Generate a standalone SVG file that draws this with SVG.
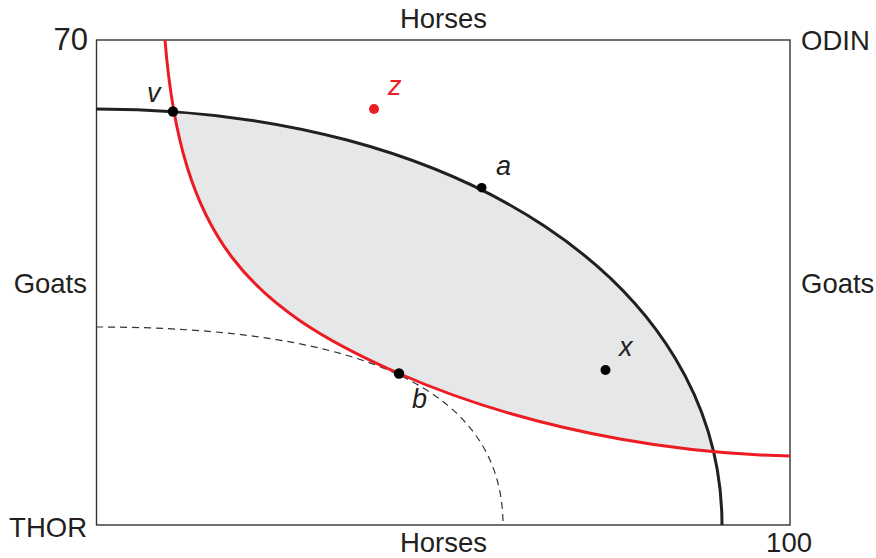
<svg xmlns="http://www.w3.org/2000/svg" width="876" height="558" viewBox="0 0 876 558">
<style>
.lbl{font-family:"Liberation Sans",Arial,sans-serif;font-size:27.5px;fill:#231f20}
.it{font-family:"Liberation Sans",Arial,sans-serif;font-size:27px;font-style:italic;fill:#231f20}
.dot{fill:#000}
</style>
<defs>
<clipPath id="underBlack">
<path d="M96,109 C459,109 722,283.7 722,525 L96,525 Z"/>
</clipPath>
<path id="redPath" d="M165,40 C181,240 249,307.5 399,373.5 C472.7,405.9 546.3,425.7 620,439 C676.7,449.2 733.3,454.9 790,456"/>
</defs>
<rect width="876" height="558" fill="#fff"/>
<g id="lens">
<path clip-path="url(#underBlack)" fill="#e6e7e8" d="M165,40 C181,240 249,307.5 399,373.5 C472.7,405.9 546.3,425.7 620,439 C676.7,449.2 733.3,454.9 790,456 L790,40 Z"/>
</g>
<g id="box">
<rect x="96.5" y="40" width="693.5" height="485" fill="none" stroke="#333" stroke-width="1.4"/>
</g>
<g id="connectors">
<path id="dashed" d="M96,327 C368.7,327 503,392.3 503,525" fill="none" stroke="#333" stroke-width="1.2" stroke-dasharray="7,5"/>
<path id="black-curve" d="M96,109 C459,109 722,283.7 722,525" fill="none" stroke="#231f20" stroke-width="3"/>
<use href="#redPath" fill="none" stroke="#ed1c24" stroke-width="3"/>
</g>
<g id="node-v"><circle class="dot" cx="173" cy="111.5" r="5.2"/><text class="it" x="147" y="102">v</text></g>
<g id="node-a"><circle class="dot" cx="481.7" cy="187.7" r="4.8"/><text class="it" x="496" y="175">a</text></g>
<g id="node-z"><circle cx="374" cy="109" r="5" fill="#ed1c24"/><text class="it" x="388" y="95" style="fill:#ed1c24">z</text></g>
<g id="node-b"><circle class="dot" cx="399" cy="373.5" r="5.2"/><text class="it" x="412" y="408">b</text></g>
<g id="node-x"><circle class="dot" cx="605.5" cy="370" r="5"/><text class="it" x="619" y="356">x</text></g>
<g id="labels">
<text class="lbl" x="443.5" y="28" text-anchor="middle">Horses</text>
<text class="lbl" x="443.5" y="552" text-anchor="middle">Horses</text>
<text class="lbl" x="88" y="50" text-anchor="end" style="font-size:31px">70</text>
<text class="lbl" x="801" y="50">ODIN</text>
<text class="lbl" x="87" y="293" text-anchor="end">Goats</text>
<text class="lbl" x="801" y="293">Goats</text>
<text class="lbl" x="87" y="537" text-anchor="end">THOR</text>
<text class="lbl" x="812" y="552" text-anchor="end">100</text>
</g>
</svg>
